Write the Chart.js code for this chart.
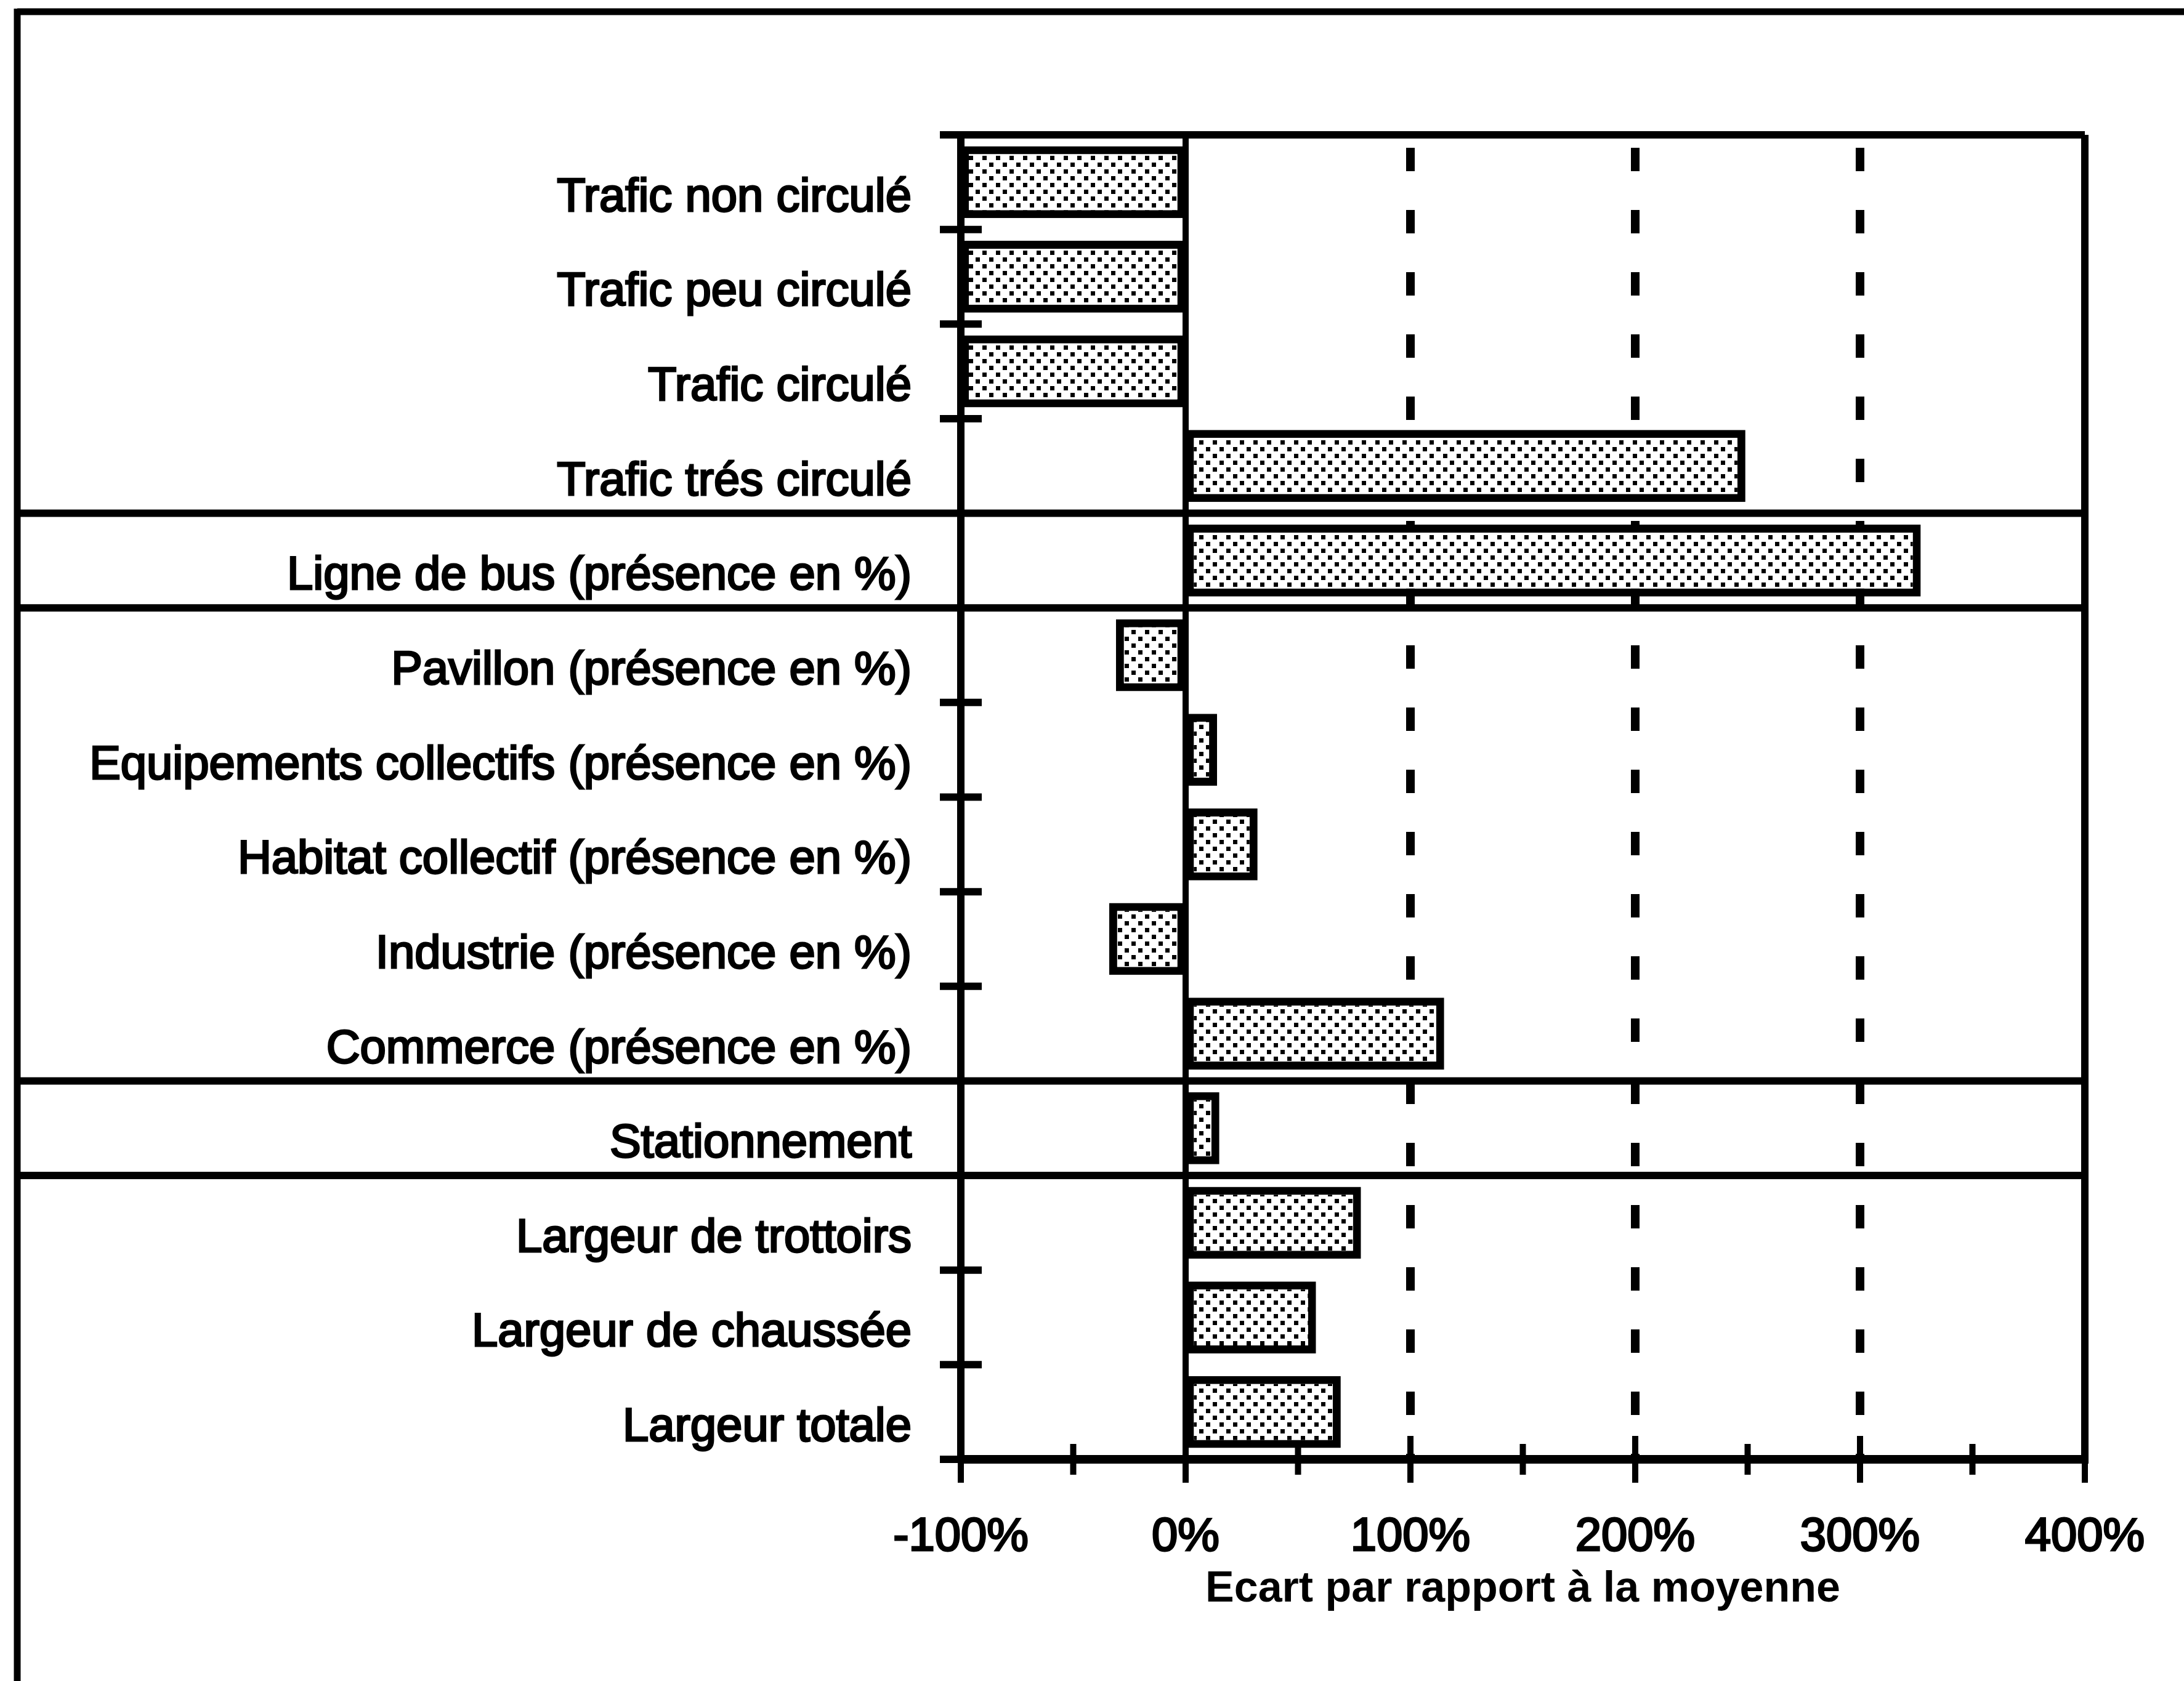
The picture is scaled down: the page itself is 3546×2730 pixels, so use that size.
<!DOCTYPE html>
<html lang="fr">
<head>
<meta charset="utf-8">
<title>Ecart par rapport à la moyenne</title>
<script src="https://cdn.jsdelivr.net/npm/chart.js@4.4.1/dist/chart.umd.min.js"></script>
<style>
  html, body { margin: 0; padding: 0; background: #fff; }
  canvas { display: block; }
</style>
</head>
<body>
<canvas id="chart" width="3546" height="2730"></canvas>
<script>
// Categories, top to bottom
const categories = [
  'Trafic non circulé',
  'Trafic peu circulé',
  'Trafic circulé',
  'Trafic trés circulé',
  'Ligne de bus (présence en %)',
  'Pavillon (présence en %)',
  'Equipements collectifs (présence en %)',
  'Habitat collectif (présence en %)',
  'Industrie (présence en %)',
  'Commerce (présence en %)',
  'Stationnement',
  'Largeur de trottoirs',
  'Largeur de chaussée',
  'Largeur totale'
];

// Ecart par rapport à la moyenne, in %
const ecarts = [-100, -100, -100, 249, 327, -31, 14, 32, -34, 115, 15, 78, 58, 69];

// x axis range and the dashed reference lines
const xMin = -100;
const xMax = 400;
const xStep = 100;
const dashedAt = [100, 200, 300];

// full width separator lines are drawn below these rows
const groupBreaks = [4, 5, 10, 11];

const FONT = "'Liberation Sans', Arial, Helvetica, sans-serif";
const SIZE = 76;

// grey stipple fill like the old print
function stipple() {
    const c = document.createElement('canvas');
    c.width = 22;
    c.height = 22;
    const g = c.getContext('2d');
    g.fillStyle = '#fff';
    g.fillRect(0, 0, 22, 22);
    g.fillStyle = '#000';
    g.fillRect(0, 0, 7, 7);
    g.fillRect(11, 11, 7, 7);
    return g.createPattern(c, 'repeat');
}

function line(ctx, x1, y1, x2, y2) {
    ctx.beginPath();
    ctx.moveTo(x1, y1);
    ctx.lineTo(x2, y2);
    ctx.stroke();
}

// Frame, separators, crossing ticks and dashed lines
const frame = {
    id: 'frame',
    beforeDatasetsDraw(chart) {
        const { ctx, chartArea: a, scales: { x } } = chart;
        ctx.save();
        ctx.strokeStyle = '#000';
        ctx.lineWidth = 14;
        ctx.setLineDash([38, 63]);
        ctx.lineDashOffset = -21;
        dashedAt.forEach(v => {
            const px = x.getPixelForValue(v);
            line(ctx, px, a.top, px, a.bottom);
        });
        ctx.setLineDash([]);
        ctx.lineWidth = 10;
        const zero = x.getPixelForValue(0);
        line(ctx, zero, a.top, zero, a.bottom);
        ctx.restore();
    },
    afterDatasetsDraw(chart) {
        const { ctx, chartArea: a, scales: { x, y } } = chart;
        const step = (y.bottom - y.top) / categories.length;
        ctx.save();
        ctx.strokeStyle = '#000';

        // outer page frame (top and left only)
        ctx.lineWidth = 11;
        line(ctx, 28, 19, chart.width, 19);
        line(ctx, 28, 14, 28, chart.height);

        // group separators
        ctx.lineWidth = 12;
        groupBreaks.forEach(k => {
            const py = y.top + k * step;
            line(ctx, 28, py, a.right, py);
        });

        // plot box
        line(ctx, a.left, a.top, a.right, a.top);
        line(ctx, a.right, a.top, a.right, a.bottom);
        line(ctx, a.left, a.top, a.left, a.bottom);
        ctx.lineWidth = 14;
        line(ctx, a.left, a.bottom, a.right + 6, a.bottom);

        // y ticks across the axis
        ctx.lineWidth = 12;
        for (let k = 0; k <= categories.length; k++) {
            if (groupBreaks.includes(k)) continue;
            const py = y.top + k * step;
            line(ctx, a.left - 34, py, a.left + 34, py);
        }

        // x ticks across the axis, minor ones every 50
        ctx.lineWidth = 10;
        for (let v = xMin; v <= xMax; v += xStep / 2) {
            const px = x.getPixelForValue(v);
            const len = v % xStep === 0 ? 38 : 25;
            line(ctx, px, a.bottom - len, px, a.bottom + len);
        }
        ctx.restore();
    }
};

new Chart(document.getElementById('chart'), {
    type: 'bar',
    data: {
        labels: categories,
        datasets: [{
            data: ecarts,
            backgroundColor: stipple(),
            borderColor: '#000',
            borderWidth: 13,
            borderSkipped: false,
            barPercentage: 0.76,
            categoryPercentage: 1
        }]
    },
    options: {
        indexAxis: 'y',
        responsive: false,
        animation: false,
        layout: { padding: { top: 219, right: 161, bottom: 0, left: 0 } },
        plugins: {
            legend: { display: false },
            tooltip: { enabled: false }
        },
        scales: {
            x: {
                type: 'linear',
                min: xMin,
                max: xMax,
                // invisible tick marks only push the labels down
                grid: { color: 'transparent', drawOnChartArea: false, drawTicks: true, tickLength: 72 },
                border: { display: false },
                ticks: {
                    stepSize: xStep,
                    padding: 9,
                    color: '#000',
                    textStrokeColor: '#000',
                    textStrokeWidth: 3,
                    font: { family: FONT, size: SIZE },
                    callback: v => v + '%'
                },
                title: {
                    display: true,
                    text: 'Ecart par rapport à la moyenne',
                    color: '#000',
                    font: { family: FONT, size: 70, weight: 'bold' },
                    padding: { top: 0, bottom: 106 }
                },
                afterFit: s => { s.height = 360; }
            },
            y: {
                grid: { display: false, drawTicks: false },
                border: { display: false },
                ticks: {
                    autoSkip: false,
                    padding: 80,
                    labelOffset: 26,
                    color: '#000',
                    textStrokeColor: '#000',
                    textStrokeWidth: 3,
                    font: { family: FONT, size: SIZE }
                },
                afterFit: s => { s.width = 1560; }
            }
        }
    },
    plugins: [frame]
});
</script>
</body>
</html>
